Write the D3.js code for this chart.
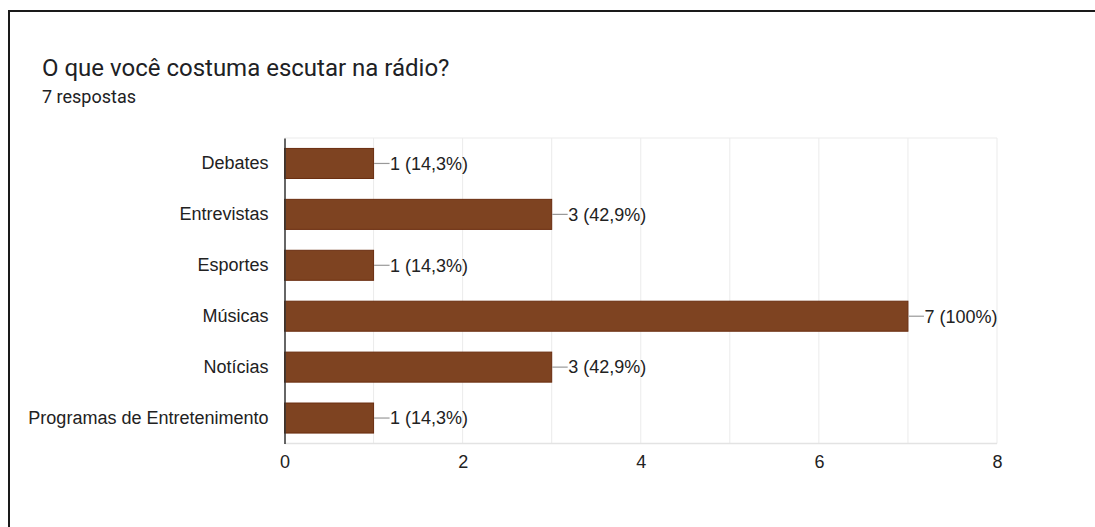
<!DOCTYPE html>
<html>
<head>
<meta charset="utf-8">
<script src="https://cdn.jsdelivr.net/npm/d3@7"></script>
<style>
  html, body { margin: 0; padding: 0; background: #fff; }
  svg { display: block; }
</style>
</head>
<body>
<svg id="chart" width="1095" height="527"></svg>
<script>
// Survey answers: "O que você costuma escutar na rádio?"
const categories = ["Debates", "Entrevistas", "Esportes", "Músicas", "Notícias", "Programas de Entretenimento"];
const counts = [1, 3, 1, 7, 3, 1];
const percentLabels = ["14,3%", "42,9%", "14,3%", "100%", "42,9%", "14,3%"];
const xTicks = [0, 2, 4, 6, 8];
const totalResponses = 7;

const svg = d3.select("#chart");

// Card frame
svg.append("path")
  .attr("d", "M9,527 V11 H1095")
  .attr("fill", "none")
  .attr("stroke", "#1a1a1a")
  .attr("stroke-width", 2);

// Heading
svg.append("text")
  .attr("x", 42).attr("y", 76)
  .attr("font-family", "Roboto, 'Noto Sans', sans-serif")
  .attr("font-size", 24)
  .attr("fill", "#202124")
  .text("O que você costuma escutar na rádio?");
svg.append("text")
  .attr("x", 42).attr("y", 103)
  .attr("font-family", "Roboto, 'Noto Sans', sans-serif")
  .attr("font-size", 18)
  .attr("fill", "#202124")
  .text(totalResponses + " respostas");

const plot = { left: 284.5, right: 997, top: 138, bottom: 443.5 };

const x = d3.scaleLinear().domain([0, 8]).range([plot.left, plot.right]);
const y = d3.scaleBand().domain(categories).range([plot.top, plot.bottom]).paddingInner(0.41).paddingOuter(0.205);

const labelFont = "'Liberation Sans', Arial, sans-serif";
const labelSize = 18;

// Vertical gridlines at every unit
svg.append("g")
  .selectAll("line")
  .data(d3.range(1, 9))
  .join("line")
  .attr("x1", d => x(d)).attr("x2", d => x(d))
  .attr("y1", plot.top).attr("y2", plot.bottom)
  .attr("stroke", "#ebebeb").attr("stroke-width", 1);

// Top and bottom frame of the plot area
svg.append("line")
  .attr("x1", plot.left).attr("x2", plot.right)
  .attr("y1", plot.top).attr("y2", plot.top)
  .attr("stroke", "#ebebeb");
svg.append("line")
  .attr("x1", plot.left).attr("x2", plot.right)
  .attr("y1", plot.bottom).attr("y2", plot.bottom)
  .attr("stroke", "#e3e3e3").attr("stroke-width", 1.5);

// Bars
svg.append("g")
  .selectAll("rect")
  .data(categories)
  .join("rect")
  .attr("x", x(0))
  .attr("y", d => y(d))
  .attr("width", (d, i) => x(counts[i]) - x(0))
  .attr("height", y.bandwidth())
  .attr("fill", "#7e4321")
  .attr("stroke", "#6a2d0f")
  .attr("stroke-width", 1);

// Value labels with leader lines
const labels = svg.append("g");
categories.forEach((c, i) => {
  const xe = x(counts[i]);
  const yc = y(c) + y.bandwidth() / 2;
  labels.append("line")
    .attr("x1", xe + 0.5).attr("x2", xe + 16)
    .attr("y1", yc).attr("y2", yc)
    .attr("stroke", "#999").attr("stroke-width", 1.2);
  labels.append("text")
    .attr("x", xe + 16.5).attr("y", yc)
    .attr("dy", "0.35em")
    .attr("font-family", labelFont)
    .attr("font-size", labelSize)
    .attr("fill", "#222")
    .text(counts[i] + " (" + percentLabels[i] + ")");
});

// Category axis
const yAxis = svg.append("g")
  .attr("transform", `translate(${plot.left},0)`)
  .call(d3.axisLeft(y).tickSize(0).tickPadding(16));
yAxis.select(".domain").attr("stroke", "#333").attr("stroke-width", 1.5);
yAxis.selectAll("text")
  .attr("font-family", labelFont)
  .attr("font-size", labelSize)
  .attr("fill", "#222");

// Value axis
const xAxis = svg.append("g")
  .attr("transform", `translate(0,${plot.bottom})`)
  .call(d3.axisBottom(x).tickValues(xTicks).tickSize(0).tickPadding(12));
xAxis.select(".domain").remove();
xAxis.selectAll("text")
  .attr("font-family", labelFont)
  .attr("font-size", labelSize)
  .attr("fill", "#222");
</script>
</body>
</html>
